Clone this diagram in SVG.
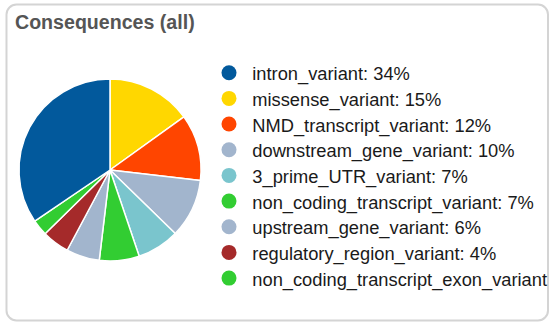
<svg xmlns="http://www.w3.org/2000/svg" width="552" height="322" viewBox="0 0 552 322">
<style>
.panel{fill:#fff;stroke:#d4d4d4;stroke-width:2}
.title{font-family:"Liberation Sans",Arial,Helvetica,sans-serif;font-weight:bold;font-size:19.6px;fill:#555}
.slice{stroke:#fff;stroke-width:1.5;stroke-linejoin:round}
.lbl{font-family:"Liberation Sans",Arial,Helvetica,sans-serif;font-size:18.3px;fill:#1a1a1a}
.intron{fill:#02599c}.missense{fill:#ffd700}.nmd{fill:#ff4500}.down{fill:#a2b5cd}.utr3{fill:#7ac5cd}.nct{fill:#32cd32}.up{fill:#a2b5cd}.reg{fill:#a52a2a}.ncte{fill:#32cd32}
</style>
<rect class="panel" x="6.5" y="4.5" width="541.5" height="316" rx="10" ry="10"/>
<text class="title" x="15" y="29">Consequences (all)</text>
<g id="pie">
<path id="slice-missense" class="slice missense" d="M110,170 L110,79 A91,91 0 0 1 183.90,116.90 Z"/>
<path id="slice-nmd" class="slice nmd" d="M110,170 L183.90,116.90 A91,91 0 0 1 200.39,180.54 Z"/>
<path id="slice-downstream" class="slice down" d="M110,170 L200.39,180.54 A91,91 0 0 1 175.24,233.44 Z"/>
<path id="slice-utr3" class="slice utr3" d="M110,170 L175.24,233.44 A91,91 0 0 1 139.18,256.20 Z"/>
<path id="slice-nct" class="slice nct" d="M110,170 L139.18,256.20 A91,91 0 0 1 99.23,260.36 Z"/>
<path id="slice-upstream" class="slice up" d="M110,170 L99.23,260.36 A91,91 0 0 1 67.14,250.27 Z"/>
<path id="slice-regulatory" class="slice reg" d="M110,170 L67.14,250.27 A91,91 0 0 1 45.09,233.78 Z"/>
<path id="slice-ncte" class="slice ncte" d="M110,170 L45.09,233.78 A91,91 0 0 1 34.74,221.15 Z"/>
<path id="slice-intron" class="slice intron" d="M110,170 L34.74,221.15 A91,91 0 0 1 110,79 Z"/>
</g>
<g id="legend">
<g id="leg-intron"><circle class="intron" cx="229" cy="72.7" r="7.5"/><text class="lbl" x="252.3" y="80.2">intron_variant: 34%</text></g>
<g id="leg-missense"><circle class="missense" cx="229" cy="98.4" r="7.5"/><text class="lbl" x="252.3" y="105.9">missense_variant: 15%</text></g>
<g id="leg-nmd"><circle class="nmd" cx="229" cy="124" r="7.5"/><text class="lbl" x="252.3" y="131.5">NMD_transcript_variant: 12%</text></g>
<g id="leg-downstream"><circle class="down" cx="229" cy="149.7" r="7.5"/><text class="lbl" x="252.3" y="157.2">downstream_gene_variant: 10%</text></g>
<g id="leg-utr3"><circle class="utr3" cx="229" cy="175.4" r="7.5"/><text class="lbl" x="252.3" y="182.9">3_prime_UTR_variant: 7%</text></g>
<g id="leg-nct"><circle class="nct" cx="229" cy="201.1" r="7.5"/><text class="lbl" x="252.3" y="208.6">non_coding_transcript_variant: 7%</text></g>
<g id="leg-upstream"><circle class="up" cx="229" cy="226.7" r="7.5"/><text class="lbl" x="252.3" y="234.2">upstream_gene_variant: 6%</text></g>
<g id="leg-regulatory"><circle class="reg" cx="229" cy="252.4" r="7.5"/><text class="lbl" x="252.3" y="259.9">regulatory_region_variant: 4%</text></g>
<g id="leg-ncte"><circle class="ncte" cx="229" cy="278.1" r="7.5"/><text class="lbl" x="252.3" y="285.6">non_coding_transcript_exon_variant</text></g>
</g>
</svg>
